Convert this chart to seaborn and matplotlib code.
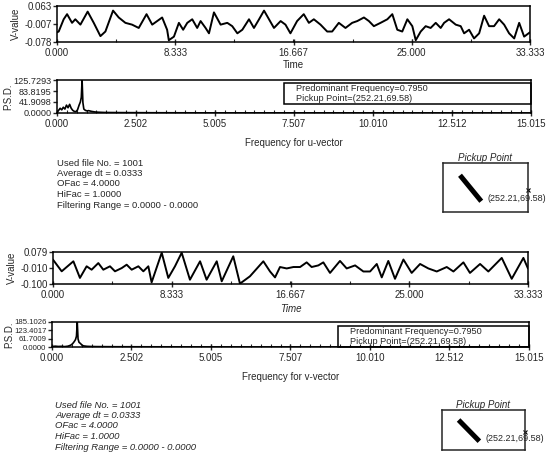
import numpy as np
import pandas as pd
import matplotlib
matplotlib.use("Agg")
import matplotlib.pyplot as plt
import seaborn as sns
from matplotlib.ticker import AutoMinorLocator
from matplotlib.patches import Rectangle

# ── data ─────────────────────────────────────────────────────────
u_time = [0.00, 0.12, 0.47, 0.71, 1.06, 1.29, 1.65, 2.16, 2.59, 3.06, 3.41, 3.95, 4.35, 4.82,
          5.29, 5.76, 6.31, 6.71, 7.06, 7.41, 7.76, 7.88, 8.24, 8.59, 8.89, 9.18, 9.53, 9.88,
          10.12, 10.47, 10.71, 11.06, 11.53, 12.00, 12.35, 12.71, 13.06, 13.53, 13.88, 14.24,
          14.59, 14.94, 15.29, 15.76, 16.10, 16.45, 16.92, 17.39, 17.75, 18.10, 18.57, 19.04,
          19.39, 19.86, 20.33, 20.80, 21.16, 21.63, 21.98, 22.33, 22.80, 23.28, 23.63, 23.98,
          24.33, 24.69, 25.04, 25.28, 25.63, 25.98, 26.33, 26.69, 27.04, 27.28, 27.63, 28.10,
          28.45, 28.69, 29.04, 29.39, 29.75, 30.10, 30.45, 30.80, 31.16, 31.51, 31.86, 32.22,
          32.57, 32.92, 33.33]
u_value = [-0.040, -0.037, 0.011, 0.031, -0.003, 0.011, -0.010, 0.041, -0.003, -0.055, -0.037,
           0.045, 0.018, -0.003, -0.010, -0.023, 0.031, -0.010, 0.004, 0.018, -0.030, -0.071,
           -0.057, -0.003, -0.030, -0.003, 0.011, -0.023, 0.004, -0.023, -0.044, 0.038, -0.010,
           -0.003, -0.016, -0.044, -0.030, 0.011, -0.023, 0.011, 0.045, 0.011, -0.023, 0.004,
           -0.010, -0.044, 0.004, 0.031, -0.003, 0.011, -0.010, -0.037, -0.037, -0.003, -0.023,
           -0.003, 0.004, 0.018, 0.004, -0.016, -0.003, 0.011, 0.031, -0.030, -0.037, 0.011,
           -0.016, -0.071, -0.037, -0.016, -0.023, -0.003, -0.023, -0.003, 0.011, -0.010, -0.016,
           -0.044, -0.030, -0.064, -0.044, 0.025, -0.016, -0.016, 0.011, -0.010, -0.044, -0.064,
           -0.003, -0.057, -0.040]

v_time = [0.00, 0.61, 1.43, 1.89, 2.36, 2.71, 3.18, 3.53, 4.00, 4.35, 4.82, 5.17, 5.52, 5.99,
          6.34, 6.69, 6.92, 7.63, 8.09, 8.56, 9.03, 9.61, 10.32, 10.78, 11.49, 11.84, 12.65,
          13.12, 13.82, 14.76, 15.23, 15.58, 15.93, 16.40, 16.87, 17.34, 17.80, 18.15, 18.62,
          18.97, 19.44, 20.14, 20.61, 21.20, 21.78, 22.25, 22.72, 23.07, 23.53, 24.00, 24.59,
          25.17, 25.76, 26.34, 26.93, 27.63, 28.10, 28.80, 29.26, 29.97, 30.55, 31.49, 32.19,
          33.01, 33.33]
v_value = [0.036, -0.029, 0.027, -0.066, -0.001, -0.020, 0.017, -0.020, -0.001, -0.029, -0.011,
           0.008, -0.020, -0.001, -0.029, -0.001, -0.091, 0.075, -0.066, -0.001, 0.075, -0.076,
           0.027, -0.076, 0.027, -0.085, 0.055, -0.098, -0.057, 0.027, -0.030, -0.063, -0.005,
           -0.013, -0.005, -0.005, 0.021, -0.005, 0.004, 0.021, -0.038, 0.029, -0.013, 0.004,
           -0.030, -0.030, 0.012, -0.063, 0.029, -0.071, 0.037, -0.038, 0.012, -0.013, -0.030,
           -0.005, -0.030, 0.021, -0.038, 0.012, -0.030, 0.046, -0.071, 0.046, -0.013]

u_freq = [0.00, 0.05, 0.10, 0.15, 0.20, 0.25, 0.30, 0.35, 0.40, 0.45, 0.50, 0.55, 0.60, 0.65,
          0.70, 0.74, 0.77, 0.795, 0.82, 0.85, 0.90, 0.95, 1.00, 1.10, 1.20, 1.30, 1.50, 2.0,
          3.0, 5.0, 8.0, 12.0, 15.015]
u_psd = [2, 10, 18, 12, 22, 15, 30, 20, 33, 18, 10, 6, 5, 12, 30, 42, 60, 125.7293, 40, 15, 10,
         8, 9, 6, 4, 3, 2, 1.5, 1, 0.5, 0.5, 0.3, 0.2]

v_freq = [0.00, 0.10, 0.20, 0.30, 0.40, 0.50, 0.55, 0.60, 0.65, 0.70, 0.74, 0.77, 0.795, 0.82,
          0.85, 0.90, 0.95, 1.00, 1.10, 1.20, 1.40, 2.0, 3.0, 5.0, 8.0, 12.0, 15.015]
v_psd = [3, 6, 4, 5, 3, 6, 10, 15, 25, 40, 55, 80, 185.1026, 60, 35, 25, 12, 8, 5, 4, 3, 2, 1.5,
         1, 0.5, 0.3, 0.2]

time_ticks = [0.0, 8.333, 16.667, 25.0, 33.333]
time_labels = ["0.000", "8.333", "16.667", "25.000", "33.333"]
freq_ticks = [0.0, 2.502, 5.005, 7.507, 10.010, 12.512, 15.015]
freq_labels = ["0.000", "2.502", "5.005", "7.507", "10.010", "12.512", "15.015"]

u_yticks = [0.063, -0.0075, -0.078]
u_ylabels = ["0.063", "-0.007", "-0.078"]
v_yticks = [0.079, -0.0105, -0.100]
v_ylabels = ["0.079", "-0.010", "-0.100"]
u_psd_ticks = [125.7293, 83.8195, 41.9098, 0.0]
u_psd_labels = ["125.7293", "83.8195", "41.9098", "0.0000"]
v_psd_ticks = [185.1026, 123.4017, 61.7009, 0.0]
v_psd_labels = ["185.1026", "123.4017", "61.7009", "0.0000"]

info_lines = ["Used file No. = 1001", "Average dt = 0.0333", "OFac = 4.0000",
              "HiFac = 1.0000", "Filtering Range = 0.0000 - 0.0000"]
peak_text = "Predominant Frequency=0.7950\nPickup Point=(252.21,69.58)"
pick_x = [0.20, 0.45]
pick_y = [0.75, 0.22]

sns.set_style("ticks")
plt.rcParams["font.family"] = ["Liberation Sans", "DejaVu Sans"]
plt.rcParams["axes.linewidth"] = 1.0

W, H = 553, 458
FS = 7
fig = plt.figure(figsize=(W / 100, H / 100), dpi=100)


def px_axes(l, t, r, b):
    return fig.add_axes([l / W, 1 - b / H, (r - l) / W, (b - t) / H])


def style_common(ax, ysize=FS):
    for s in ax.spines.values():
        s.set_visible(True)
        s.set_color("black")
        s.set_linewidth(1.1)
    ax.tick_params(axis="x", which="major", direction="inout", length=5, width=1,
                   labelsize=FS, pad=2)
    ax.tick_params(axis="x", which="minor", direction="in", length=2, width=0.8)
    ax.tick_params(axis="y", which="major", direction="out", length=3, width=1,
                   labelsize=ysize, pad=1)


def draw_series(ax, t, v, yticks, ylabels, italic=False, pad=3):
    df = pd.DataFrame({"t": t, "v": v})
    sns.lineplot(data=df, x="t", y="v", ax=ax, color="black", lw=1.4,
                 estimator=None, sort=False)
    ax.set_xlim(0, 33.333)
    ax.set_ylim(yticks[-1], yticks[0])
    ax.set_xticks(time_ticks)
    ax.set_xticklabels(time_labels)
    ax.set_yticks(yticks)
    ax.set_yticklabels(ylabels)
    ax.xaxis.set_minor_locator(AutoMinorLocator(2))
    style_common(ax)
    ax.set_xlabel("Time", fontsize=FS, style="italic" if italic else "normal", labelpad=pad)
    ax.set_ylabel("V-value", fontsize=FS, labelpad=2)


def draw_psd(ax, f, p, yticks, ylabels, xlabel, ysize):
    df = pd.DataFrame({"f": f, "p": p})
    sns.lineplot(data=df, x="f", y="p", ax=ax, color="black", lw=1.2,
                 estimator=None, sort=False)
    ax.set_xlim(0, 15.015)
    ax.set_ylim(0, yticks[0])
    ax.set_xticks(freq_ticks)
    ax.set_xticklabels(freq_labels)
    ax.set_yticks(yticks)
    ax.set_yticklabels(ylabels)
    ax.xaxis.set_minor_locator(AutoMinorLocator(8))
    style_common(ax, ysize)
    ax.set_xlabel(xlabel, fontsize=FS, labelpad=6)
    ax.set_ylabel("P.S.D.", fontsize=FS, labelpad=0)


def draw_pickup(l, t, r, b):
    ax = px_axes(l, t, r, b)
    ax.plot(pick_x, pick_y, color="black", lw=3.6, solid_capstyle="butt")
    ax.plot([1.0], [0.45], marker="x", color="black", ms=3, mew=0.8, clip_on=False)
    ax.text(0.52, 0.28, "(252.21,69.58)", fontsize=6.5, transform=ax.transAxes,
            clip_on=False, va="center")
    ax.set_xlim(0, 1)
    ax.set_ylim(0, 1)
    ax.set_xticks([])
    ax.set_yticks([])
    for s in ax.spines.values():
        s.set_visible(True)
        s.set_linewidth(1.1)
    ax.set_title("Pickup Point", fontsize=7, style="italic", pad=-1)


def draw_info(x, y, italic=False):
    for i, line in enumerate(info_lines):
        fig.text(x / W, 1 - (y + i * 10.5) / H, line, fontsize=6.8,
                 style="italic" if italic else "normal", va="center")


def draw_peak_box(l, t, r, b):
    fig.patches.append(Rectangle((l / W, 1 - b / H), (r - l) / W, (b - t) / H,
                                 transform=fig.transFigure, fill=False,
                                 edgecolor="black", lw=1.1))
    fig.text((l + 12) / W, 1 - (t + (b - t) / 2) / H, peak_text, fontsize=6.6,
             va="center", linespacing=1.15)


# ── u-vector ─────────────────────────────────────────────────────
ax1 = px_axes(57, 6, 530, 42)
draw_series(ax1, u_time, u_value, u_yticks, u_ylabels, pad=1)
ax2 = px_axes(57, 80, 531, 113)
draw_psd(ax2, u_freq, u_psd, u_psd_ticks, u_psd_labels, "Frequency for u-vector", 6.6)
draw_peak_box(284, 83, 531, 104)
draw_info(57, 163)
draw_pickup(443, 163, 528, 212)

# ── v-vector ─────────────────────────────────────────────────────
ax3 = px_axes(53, 252, 528, 284)
draw_series(ax3, v_time, v_value, v_yticks, v_ylabels, italic=True, pad=3)
ax4 = px_axes(52, 322, 529, 347)
draw_psd(ax4, v_freq, v_psd, v_psd_ticks, v_psd_labels, "Frequency for v-vector", 5.6)
draw_peak_box(338, 326, 529, 347)
draw_info(55, 405, italic=True)
draw_pickup(442, 410, 525, 450)

fig.savefig("out.png", dpi=100)
